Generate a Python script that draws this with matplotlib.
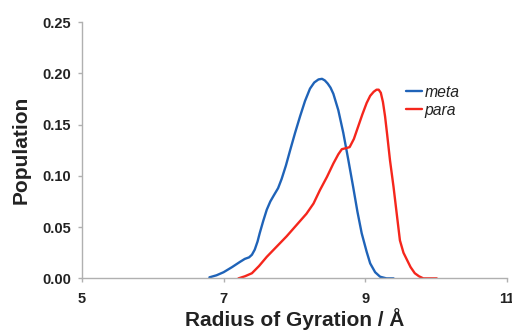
import matplotlib
matplotlib.use("Agg")
import matplotlib.pyplot as plt

# Radius of gyration distributions (Å) and their populations
meta_rg = [6.80, 6.90, 7.00, 7.12, 7.23, 7.30, 7.36, 7.40, 7.44, 7.48, 7.51, 7.56, 7.61, 7.66, 7.71, 7.77,
           7.82, 7.88, 7.94, 8.01, 8.08, 8.15, 8.22, 8.28, 8.34, 8.39, 8.43, 8.47, 8.51, 8.55, 8.62,
           8.69, 8.76, 8.83, 8.89, 8.95, 9.02, 9.07, 9.14, 9.21, 9.30, 9.40]
meta_pop = [0.001, 0.003, 0.006, 0.011, 0.016, 0.019, 0.0205, 0.023, 0.028, 0.036, 0.044, 0.056, 0.067, 0.075, 0.081, 0.088,
            0.097, 0.110, 0.125, 0.142, 0.158, 0.173, 0.185, 0.191, 0.1940, 0.1946, 0.193, 0.190, 0.186, 0.180, 0.164,
            0.142, 0.116, 0.089, 0.065, 0.044, 0.026, 0.0146, 0.006, 0.0016, 0.0, 0.0]

para_rg = [7.21, 7.30, 7.40, 7.50, 7.61, 7.75, 7.89, 8.03, 8.17, 8.27, 8.36, 8.46, 8.55, 8.62, 8.67, 8.73,
           8.78, 8.84, 8.90, 8.96, 9.02, 9.07, 9.12, 9.16, 9.19, 9.22, 9.25, 9.28, 9.31, 9.35, 9.40,
           9.45, 9.49, 9.54, 9.59, 9.64, 9.70, 9.76, 9.82, 9.90, 10.01]
para_pop = [0.0, 0.002, 0.005, 0.012, 0.021, 0.031, 0.041, 0.052, 0.063, 0.073, 0.086, 0.099, 0.112, 0.121, 0.126, 0.127,
            0.128, 0.136, 0.148, 0.160, 0.171, 0.178, 0.182, 0.184, 0.184, 0.181, 0.172, 0.158, 0.140, 0.115, 0.089,
            0.060, 0.037, 0.025, 0.018, 0.011, 0.005, 0.002, 0.0, 0.0, 0.0]

x_ticks = [5, 7, 9, 11]
y_ticks = [0.00, 0.05, 0.10, 0.15, 0.20, 0.25]

plt.rcParams['font.family'] = ['Liberation Sans', 'DejaVu Sans']

fig = plt.figure(figsize=(5.12, 3.31), dpi=100)
ax = fig.add_axes([0.160, 0.159, 0.830, 0.7745])

ax.plot(meta_rg, meta_pop, color='#1f63b8', lw=1.7, label='meta',
        solid_capstyle='round', solid_joinstyle='round')
ax.plot(para_rg, para_pop, color='#f5261c', lw=1.7, label='para',
        solid_capstyle='round', solid_joinstyle='round')

ax.set_xlim(5, 11)
ax.set_ylim(0, 0.25)
ax.set_xticks(x_ticks)
ax.set_xticklabels([str(v) for v in x_ticks])
ax.set_yticks(y_ticks)
ax.set_yticklabels([f"{v:.2f}" for v in y_ticks])

for s in ['top', 'right']:
    ax.spines[s].set_visible(False)
for s in ['left', 'bottom']:
    ax.spines[s].set_color('#b0b0b0')
    ax.spines[s].set_linewidth(1.0)

ax.tick_params(axis='both', colors='#b0b0b0', length=3, width=1.0, labelcolor='#222222',
               labelsize=10.5)
ax.tick_params(axis='x', pad=7)
ax.tick_params(axis='y', pad=5)
for lab in ax.get_xticklabels() + ax.get_yticklabels():
    lab.set_fontweight('bold')

ax.set_xlabel('Radius of Gyration / Å', fontsize=15, fontweight='bold', color='#222222', labelpad=1)
ax.set_ylabel('Population', fontsize=15, fontweight='bold', color='#222222', labelpad=8)

leg = ax.legend(loc='upper left', bbox_to_anchor=(0.73, 0.81), frameon=False,
                handlelength=1.0, handletextpad=0.15, labelspacing=0.2,
                prop={'style': 'italic', 'size': 11.3})
for t in leg.get_texts():
    t.set_color('#222222')

fig.savefig('out.png', dpi=100)
